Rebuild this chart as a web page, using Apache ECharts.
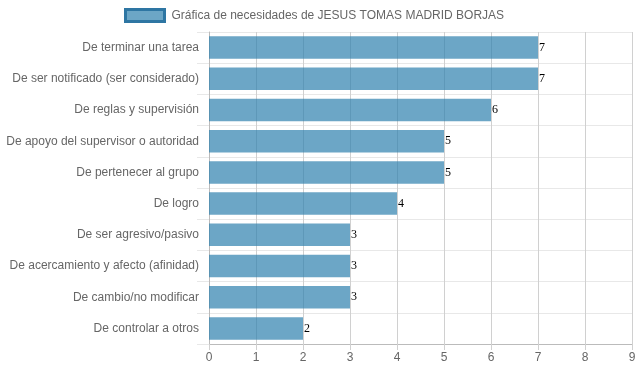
<!DOCTYPE html>
<html>
<head>
<meta charset="utf-8">
<script src="https://cdn.jsdelivr.net/npm/echarts@6/dist/echarts.min.js"></script>
<style>html,body{margin:0;padding:0;background:#fff}#c{width:639px;height:372px}</style>
</head>
<body>
<div id="c"></div>
<script>
const categories = [
  "De terminar una tarea",
  "De ser notificado (ser considerado)",
  "De reglas y supervisión",
  "De apoyo del supervisor o autoridad",
  "De pertenecer al grupo",
  "De logro",
  "De ser agresivo/pasivo",
  "De acercamiento y afecto (afinidad)",
  "De cambio/no modificar",
  "De controlar a otros"
];
const values = [7, 7, 6, 5, 5, 4, 3, 3, 3, 2];
const xTicks = [0, 1, 2, 3, 4, 5, 6, 7, 8, 9];
const seriesName = "Gráfica de necesidades de JESUS TOMAS MADRID BORJAS";

const chart = echarts.init(document.getElementById('c'), null, {renderer: 'canvas'});
chart.setOption({
  animation: false,
  textStyle: {fontFamily: 'Liberation Sans, Arial, sans-serif'},
  legend: {
    top: 8,
    left: 124,
    padding: 0,
    icon: 'rect',
    itemWidth: 39,
    itemHeight: 12,
    itemGap: 10,
    textStyle: {color: '#666', fontSize: 12, fontFamily: 'Liberation Sans, Arial, sans-serif', padding: [0, 0, 0, 2]},
    data: [{name: seriesName, itemStyle: {color: 'rgba(45,128,174,0.7)', borderColor: '#2e76a3', borderWidth: 3}}]
  },
  grid: {left: 209, right: 7, top: 32, bottom: 28, containLabel: false},
  xAxis: {
    type: 'value',
    min: xTicks[0],
    max: xTicks[xTicks.length - 1],
    interval: 1,
    axisLine: {show: true, lineStyle: {color: '#bbb'}},
    axisTick: {show: true, length: 6, lineStyle: {color: '#d0d0d0'}},
    splitLine: {show: true, lineStyle: {color: '#d0d0d0', width: 1}},
    axisLabel: {color: '#666', fontSize: 12, margin: 8}
  },
  yAxis: {
    type: 'category',
    inverse: true,
    data: categories,
    axisLine: {show: true, lineStyle: {color: '#bbb'}},
    axisTick: {show: true, length: 12, lineStyle: {color: '#e8e8e8'}},
    splitLine: {show: true, lineStyle: {color: '#e8e8e8'}},
    axisLabel: {color: '#666', fontSize: 12, margin: 10}
  },
  series: [{
    name: seriesName,
    type: 'bar',
    data: values,
    barCategoryGap: '28%',
    itemStyle: {color: 'rgba(45,128,174,0.7)'},
    label: {
      show: true,
      position: 'right',
      distance: 1,
      color: '#000',
      fontSize: 12,
      fontFamily: 'Liberation Serif, Times New Roman, serif'
    }
  }]
});
</script>
</body>
</html>
